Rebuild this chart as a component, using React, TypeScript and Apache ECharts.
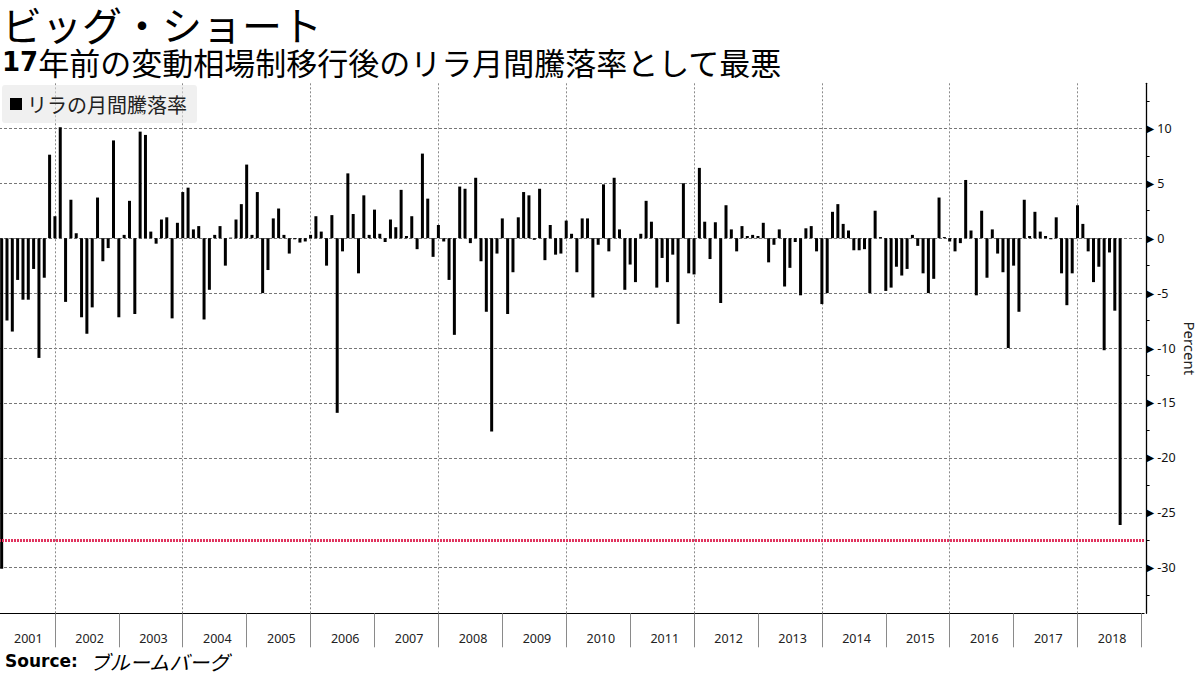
import React, { useEffect, useRef } from "react";
import * as echarts from "echarts";

// Monthly change of the Turkish lira vs USD (%), Feb 2001 – Aug 2018
const chg2001 = [-30.1, -7.5, -8.5, -3.8, -5.6, -5.6, -2.8, -10.9, -3.6, 7.6, 2.0];
const chg2002 = [10.1, -5.8, 3.5, 0.45, -7.2, -8.7, -6.3, 3.7, -2.1, -0.9, 8.9, -7.2];
const chg2003 = [0.3, 3.4, -6.9, 9.7, 9.4, 0.6, -0.5, 1.7, 1.9, -7.3, 1.4, 4.2];
const chg2004 = [4.6, 0.8, 1.1, -7.4, -4.7, 0.3, 1.1, -2.5, 0.05, 1.7, 3.1, 6.7];
const chg2005 = [0.3, 4.2, -5.0, -2.9, 1.8, 2.7, 0.3, -1.4, -0.1, -0.4, -0.3, 0.3];
const chg2006 = [2.0, 0.6, -2.5, 2.1, -15.9, -1.2, 5.9, 2.2, -3.2, 3.9, 0.3, 2.6];
const chg2007 = [0.4, -0.35, 1.7, 1.0, 4.4, 0.2, 2.0, -1.0, 7.7, 3.6, -1.7, 1.2];
const chg2008 = [-0.3, -3.8, -8.8, 4.7, 4.5, -0.45, 5.5, -2.1, -6.7, -17.6, -1.4, 1.8];
const chg2009 = [-6.9, -3.1, 1.9, 4.2, 3.9, -0.15, 4.5, -2.0, 1.2, -1.5, -1.4, 1.6];
const chg2010 = [0.4, -3.1, 1.8, 1.8, -5.4, -0.6, 4.9, -1.2, 5.5, 0.8, -4.7, -2.4];
const chg2011 = [-4.0, 0.4, 3.4, 1.5, -4.5, -1.8, -4.0, -1.5, -7.8, 5.0, -3.2, -3.3];
const chg2012 = [6.4, 1.5, -1.9, 1.45, -5.9, 3.0, 0.8, -1.2, 1.1, 0.2, 0.3, 0.2];
const chg2013 = [1.4, -2.2, -0.6, 0.8, -4.4, -2.7, -0.35, -5.2, 0.9, 1.1, -1.2, -6.0];
const chg2014 = [-5.0, 2.4, 3.1, 1.3, 0.7, -1.1, -1.1, -1.0, -5.0, 2.5, 0.1, -4.8];
const chg2015 = [-4.5, -2.6, -3.4, -2.8, 0.3, -0.7, -3.2, -5.0, -3.7, 3.7, 0.1, -0.3];
const chg2016 = [-1.2, -0.45, 5.3, 0.7, -5.2, 2.5, -3.6, 0.8, -1.4, -3.1, -10.0, -2.5];
const chg2017 = [-6.7, 3.5, 0.2, 2.4, 0.6, 0.2, -0.1, 1.9, -3.2, -6.1, -3.2, 3.0];
const chg2018 = [1.3, -1.2, -4.0, -2.6, -10.2, -1.3, -6.6, -26.1];

const years = [
  "2001", "2002", "2003", "2004", "2005", "2006", "2007", "2008", "2009",
  "2010", "2011", "2012", "2013", "2014", "2015", "2016", "2017", "2018",
];
const monthNumbers = ["01", "02", "03", "04", "05", "06", "07", "08", "09", "10", "11", "12"];
const worstLine = -27.5;
const yLabelValues = [-30, -25, -20, -15, -10, -5, 0, 5, 10];
const yTickValues = [
  -32.5, -30, -27.5, -25, -22.5, -20, -17.5, -15, -12.5, -10, -7.5, -5, -2.5,
  0, 2.5, 5, 7.5, 10, 12.5,
];

const seriesName = "リラの月間騰落率";
const titleText = "ビッグ・ショート";
const subtitleBold = "17";
const subtitleText = "年前の変動相場制移行後のリラ月間騰落率として最悪";
const sourceLabel = "Source:";
const sourceText = "ブルームバーグ";

const monthlyChange = [
  ...chg2001, ...chg2002, ...chg2003, ...chg2004, ...chg2005, ...chg2006,
  ...chg2007, ...chg2008, ...chg2009, ...chg2010, ...chg2011, ...chg2012,
  ...chg2013, ...chg2014, ...chg2015, ...chg2016, ...chg2017, ...chg2018,
];

// Month categories from Feb 2001 (first month after the float) to Dec 2018
const allMonths: string[] = [];
years.forEach((y) => monthNumbers.forEach((m) => allMonths.push(`${y}-${m}`)));
const months = allMonths.slice(1);

const barData = months.map((_, i) => {
  const v = monthlyChange[i];
  return v === undefined ? null : v;
});

const CJK = "Noto Sans CJK JP";
const LATIN = "Noto Sans";

const isDecember = (i: number) => months[i] !== undefined && months[i].endsWith("-12");
const yearOf = (v: string) => v.slice(0, 4);
const isYearLabelSlot = (i: number) => {
  const m = months[i];
  if (!m) return false;
  if (yearOf(m) === years[0]) return m.endsWith("-07");
  return m.endsWith("-06");
};

export default function App() {
  const ref = useRef<HTMLDivElement>(null);

  useEffect(() => {
    if (!ref.current) return;
    const chart = echarts.init(ref.current, null, { renderer: "svg" });

    const plotLeft = -1;
    const plotWidth = 1145.1;
    const plotTop = 83.3;
    const plotHeight = 530;

    const option: any = {
      animation: false,
      backgroundColor: "#ffffff",
      title: [
        {
          text: titleText,
          left: 2,
          top: 4,
          padding: 0,
          textStyle: {
            fontFamily: CJK,
            fontSize: 40,
            lineHeight: 40,
            fontWeight: "normal",
            color: "#000",
          },
        },
        {
          text: `{b|${subtitleBold}}{n|${subtitleText}}`,
          left: 2,
          top: 46,
          padding: 0,
          textStyle: {
            fontFamily: CJK,
            fontSize: 31,
            lineHeight: 31,
            fontWeight: "normal",
            color: "#000",
            rich: {
              b: {
                fontFamily: "DejaVu Sans",
                fontWeight: "bold",
                fontSize: 26,
                lineHeight: 31,
                color: "#000",
              },
              n: { fontFamily: CJK, fontWeight: "normal", fontSize: 31, lineHeight: 31, color: "#000" },
            },
          },
        },
      ],
      legend: {
        data: [seriesName],
        left: 2,
        top: 85,
        icon: "rect",
        itemWidth: 12,
        itemHeight: 12,
        padding: [9, 10, 9, 8],
        backgroundColor: "rgba(228,228,228,0.55)",
        borderRadius: 3,
        selectedMode: false,
        textStyle: { fontFamily: CJK, fontSize: 20, color: "#222" },
      },
      grid: [
        {
          left: plotLeft,
          top: plotTop,
          width: plotWidth,
          height: plotHeight,
          containLabel: false,
          outerBoundsMode: "none",
        },
        {
          left: plotLeft,
          top: 128.3,
          width: plotWidth,
          height: 439.4,
          containLabel: false,
          outerBoundsMode: "none",
        },
      ],
      xAxis: [
        {
          gridIndex: 0,
          type: "category",
          data: months,
          boundaryGap: true,
          axisLine: { show: true, onZero: false, lineStyle: { color: "#000", width: 1 } },
          axisTick: {
            show: true,
            alignWithLabel: true,
            interval: (i: number) => isDecember(i),
            length: 34,
            lineStyle: { color: "#8a8a8a", width: 1 },
          },
          axisLabel: {
            show: true,
            interval: (i: number) => isYearLabelSlot(i),
            margin: 19,
            formatter: (value: string) =>
              yearOf(value) === years[0] ? `{f|${yearOf(value)}}` : `{y|${yearOf(value)}}`,
            rich: {
              y: { fontFamily: LATIN, fontSize: 12.5, color: "#222", padding: [0, 0, 0, 5.3] },
              f: { fontFamily: LATIN, fontSize: 12.5, color: "#222" },
            },
          },
          splitLine: {
            show: true,
            alignWithLabel: true,
            interval: (i: number) => isDecember(i) && (Number(yearOf(months[i])) - 2001) % 2 === 0,
            lineStyle: { color: "#8a8a8a", width: 1, type: [2, 2] },
          },
        },
        {
          gridIndex: 1,
          type: "category",
          data: months,
          show: false,
          axisLine: { onZero: false },
        },
      ],
      yAxis: [
        {
          gridIndex: 0,
          type: "value",
          position: "right",
          offset: 2.5,
          min: -34.15,
          max: 14.1,
          axisLine: { show: true, onZero: false, lineStyle: { color: "#000", width: 1.3 } },
          axisTick: {
            show: true,
            inside: false,
            length: 3,
            customValues: yTickValues,
            lineStyle: { color: "#000", width: 1 },
          },
          axisLabel: { show: false },
          splitLine: { show: false },
          name: "Percent",
          nameLocation: "middle",
          nameRotate: -90,
          nameGap: 36,
          nameTextStyle: { fontFamily: LATIN, fontSize: 15, color: "#222" },
        },
        {
          gridIndex: 1,
          type: "value",
          position: "right",
          offset: 2.5,
          min: -30,
          max: 10,
          interval: 5,
          axisLine: { show: false, onZero: false },
          axisTick: { show: false },
          axisLabel: {
            show: true,
            margin: 0,
            customValues: yLabelValues,
            formatter: (v: number) => `{t|▶}{v|${v}}`,
            rich: {
              t: { fontFamily: "DejaVu Sans", fontSize: 10, color: "#000" },
              v: { fontFamily: LATIN, fontSize: 12.5, color: "#111", padding: [0, 0, 0, 3] },
            },
          },
          splitLine: {
            show: true,
            lineStyle: { color: "#777", width: 1, type: [3, 2] },
          },
        },
      ],
      series: [
        {
          name: seriesName,
          type: "bar",
          xAxisIndex: 0,
          yAxisIndex: 0,
          data: barData,
          barWidth: 3,
          itemStyle: { color: "#000" },
          z: 3,
          markLine: {
            silent: true,
            symbol: "none",
            label: { show: false },
            lineStyle: { color: "#e0335f", width: 3, type: [2, 1] },
            data: [{ yAxis: worstLine }],
          },
        },
      ],
      graphic: [
        {
          type: "text",
          left: 5,
          top: 651,
          style: {
            text: `{b|${sourceLabel}}{j|${sourceText}}`,
            rich: {
              b: { fontFamily: "DejaVu Sans", fontWeight: "bold", fontSize: 17, fill: "#000" },
              j: {
                fontFamily: CJK,
                fontSize: 20,
                fontStyle: "italic",
                fill: "#000",
                padding: [0, 0, 0, 12],
              },
            },
          },
        },
      ],
    };

    chart.setOption(option);
    return () => chart.dispose();
  }, []);

  return (
    <div
      ref={ref}
      style={{ position: "fixed", left: 0, top: 0, width: 1200, height: 675, background: "#fff" }}
    />
  );
}
